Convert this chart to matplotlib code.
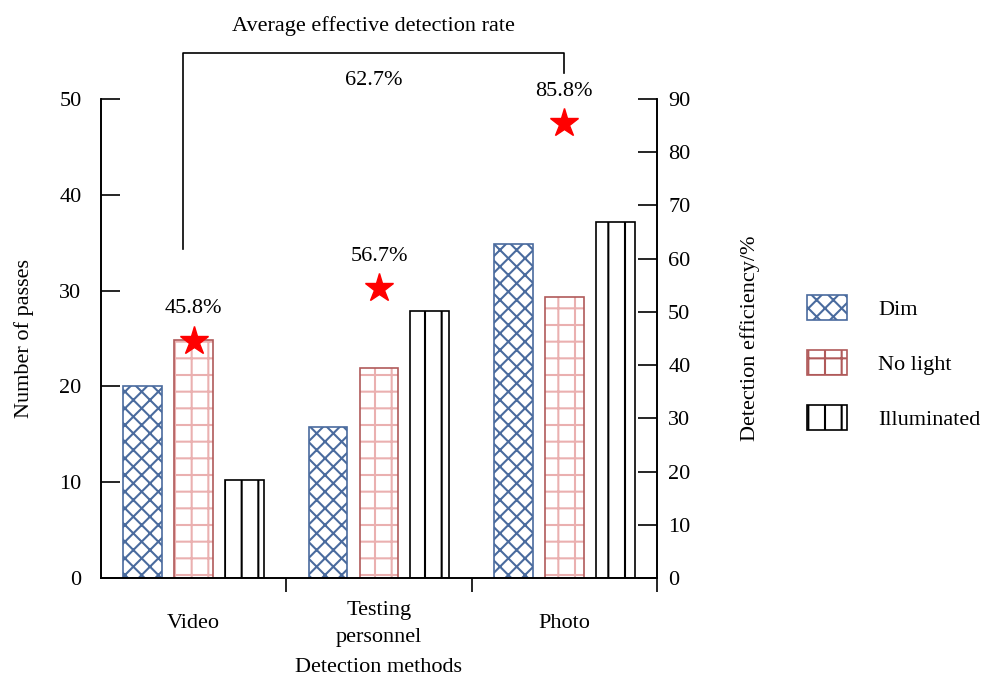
import matplotlib.pyplot as plt
import numpy as np
from matplotlib.patches import Patch

plt.rcParams['font.family'] = ['Liberation Serif', 'DejaVu Serif']
plt.rcParams['hatch.linewidth'] = 1.5

# data
methods = ["Video", "Testing\npersonnel", "Photo"]
dim = [20.0, 15.8, 34.9]
no_light = [24.8, 21.9, 29.3]
illuminated = [10.2, 27.9, 37.2]
star_values = [44.6, 54.5, 85.5]          # detection efficiency (%) markers
star_labels = ["45.8%", "56.7%", "85.8%"]
avg_label = "62.7%"

fs = 16
fig = plt.figure(figsize=(9.84, 6.75), dpi=100)
ax = fig.add_axes([0.1026, 0.1437, 0.5651, 0.7096])
ax2 = ax.twinx()

x = np.arange(len(methods))
w = 0.21
off = 0.275

# Dim: blue cross hatch
ax.bar(x - off, dim, width=w, color="white", edgecolor="#4a6b9e", hatch="xx", linewidth=1.2)
# No light: light red grid hatch, darker red outline
ax.bar(x, no_light, width=w, color="white", edgecolor="#eab0b0", hatch="+", linewidth=0)
ax.bar(x, no_light, width=w, color="none", edgecolor="#b05a5a", linewidth=1.2)
# Illuminated: black vertical lines
ax.bar(x + off, illuminated, width=w, color="white", edgecolor="black", hatch="|", linewidth=1.2)

ax.set_xlim(-0.5, 2.5)
ax.set_ylim(0, 50)
ax2.set_ylim(0, 90)
ax.set_yticks(np.arange(0, 51, 10))
ax2.set_yticks(np.arange(0, 91, 10))

ax.set_xticks(x)
ax.set_xticklabels(methods, fontsize=fs, linespacing=1.55, va="center")
ax.set_xticks([0.5, 1.5, 2.5], minor=True)
ax.tick_params(axis="x", which="major", length=0, pad=33)
ax.tick_params(axis="x", which="minor", length=10, width=1.2, direction="out")
ax.tick_params(axis="y", direction="in", length=14, width=1.2, labelsize=fs, pad=14)
ax2.tick_params(axis="y", direction="in", length=14, width=1.2, labelsize=fs, pad=8)

for a in (ax, ax2):
    a.spines["top"].set_visible(False)
    for s in ("left", "right", "bottom"):
        a.spines[s].set_linewidth(1.2)

ax.set_ylabel("Number of passes", fontsize=fs, labelpad=18)
ax2.set_ylabel("Detection efficiency/%", fontsize=fs, labelpad=36)
ax.set_xlabel("Detection methods", fontsize=fs, labelpad=8)

# red stars with efficiency labels
ax2.plot(x, star_values, linestyle="none", marker="*", markersize=21, color="red", zorder=5)
for xi, v, lab in zip(x, star_values, star_labels):
    ax2.annotate(lab, (xi, v), xytext=(0, 23), textcoords="offset points",
                 ha="center", va="center", fontsize=fs)

# bracket for the average effective detection rate
ax2.plot([-0.057, -0.057, 2.0, 2.0], [61.9, 98.6, 98.6, 94.9], color="black",
         linewidth=1.2, clip_on=False)
ax2.text(0.97, 93.4, avg_label, ha="center", va="center", fontsize=fs, clip_on=False)
ax2.text(0.97, 103.7, "Average effective detection rate", ha="center", va="center",
         fontsize=fs, clip_on=False)

# legend
handles = [
    Patch(facecolor="white", edgecolor="#4a6b9e", hatch="xx", linewidth=1.2),
    Patch(facecolor="white", edgecolor="#b05a5a", hatch="+", linewidth=1.2),
    Patch(facecolor="white", edgecolor="black", hatch="|", linewidth=1.2),
]
fig.legend(handles, ["Dim", "No light", "Illuminated"], loc="center left",
           bbox_to_anchor=(0.80, 0.463), frameon=False, fontsize=fs,
           handlelength=1.8, handleheight=1.35, labelspacing=1.35, handletextpad=1.4)

fig.savefig("out.png", dpi=100)
